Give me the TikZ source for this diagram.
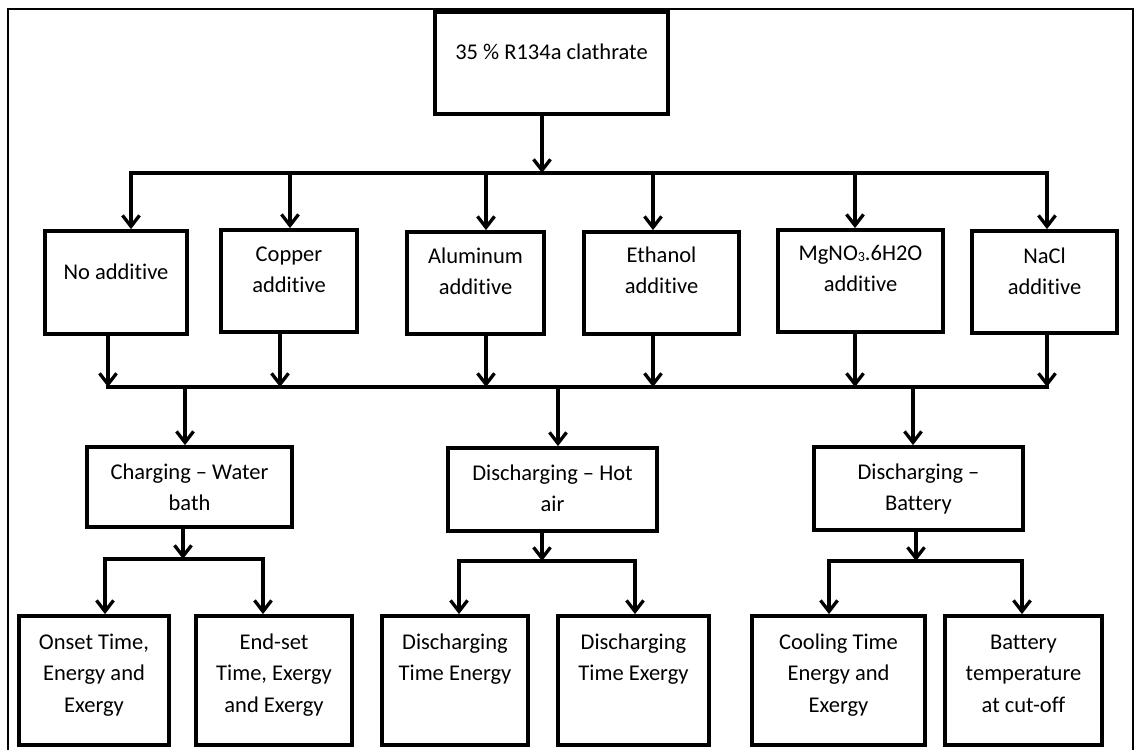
\documentclass[tikz,border=0pt]{standalone}
\usepackage{fontspec}
\setmainfont{Carlito}[Ligatures={TeX,NoCommon}]
\usetikzlibrary{arrows.meta}
\newcommand{\bxt}[4]{\parbox[c][#2pt][t]{#1pt}{\centering\rule{0pt}{#3pt}#4\par}}
\newcommand{\subthree}{{\fontsize{14}{14}\selectfont\raisebox{-1.5pt}{3}}}
\newcommand{\addv}{addit\kern0pt ive}
\begin{document}
\begin{tikzpicture}[x=1pt,y=-1pt,
  bx/.style={draw, line width=3.8pt, inner sep=0pt, font=\fontsize{22.5}{31.5}\selectfont},
  conn/.style={line width=3.3pt},
  bus/.style={conn, line cap=rect},
  arr/.style={conn, -{Straight Barb[length=11pt,width=17pt]}}]
\useasboundingbox (0,0) rectangle (1136,750);
\draw[line width=2pt] (8,9) rectangle (1133,770);

% top
\node[bx] (top) at (551.5,63) {\bxt{233}{102}{47}{35 \% R134a clathrate}};

% row 2
\node[bx] (nadd) at (116,282.5) {\bxt{142}{103}{48}{No \addv}};
\node[bx] (copp) at (289,281) {\bxt{136}{102}{31}{Copper\\\addv}};
\node[bx] (alum) at (475.5,283) {\bxt{137}{102}{31}{Aluminum\\\addv}};
\node[bx] (eth) at (661.5,283) {\bxt{155}{102}{30}{Ethanol\\\addv}};
\node[bx] (mg) at (860.5,281) {\bxt{165}{102}{30}{MgNO\subthree.6H2O\\\addv}};
\node[bx] (nacl) at (1044.5,282) {\bxt{145}{102}{32}{NaCl\\\addv}};

% row 3
\node[bx] (chg) at (189.5,487) {\bxt{205}{80}{32}{Charging – Water\\bath}};
\node[bx] (hot) at (552.5,489.5) {\bxt{209}{83}{32}{Discharging – Hot\\air}};
\node[bx] (bat) at (918.5,488.5) {\bxt{209}{83}{32}{Discharging –\\Battery}};

% row 4
\node[bx] (onset) at (94,680.5) {\bxt{150}{129}{33}{Onset Time,\\Energy and\\Exergy}};
\node[bx] (endset) at (274,680.5) {\bxt{156}{129}{33}{End-set\\Time, Exergy\\and Exergy}};
\node[bx] (dte) at (455,680.5) {\bxt{146}{129}{33}{Discharging\\Time Energy}};
\node[bx] (dtx) at (633.5,680.5) {\bxt{151}{129}{33}{Discharging\\Time Exergy}};
\node[bx] (cool) at (838.5,680.5) {\bxt{173}{129}{33}{Cooling Time\\Energy and\\Exergy}};
\node[bx] (btemp) at (1023.5,680.5) {\bxt{157}{129}{33}{Battery\\temperature\\at cut-off}};

% top distribution bus
\coordinate (j0) at (542,173);
\coordinate (d1) at (131,173);
\coordinate (d2) at (290,173);
\coordinate (d3) at (486,173);
\coordinate (d4) at (653,173);
\coordinate (d5) at (855,173);
\coordinate (d6) at (1047,173);
\draw[arr] (j0 |- top.south) -- (j0);
\draw[bus] (d1) -- (d6);
\draw[arr] (d1) -- (d1 |- nadd.north);
\draw[arr] (d2) -- (d2 |- copp.north);
\draw[arr] (d3) -- (d3 |- alum.north);
\draw[arr] (d4) -- (d4 |- eth.north);
\draw[arr] (d5) -- (d5 |- mg.north);
\draw[arr] (d6) -- (d6 |- nacl.north);

% collecting bus
\coordinate (u1) at (108,387);
\coordinate (u2) at (280,387);
\coordinate (u3) at (486,387);
\coordinate (u4) at (653,387);
\coordinate (u5) at (855,387);
\coordinate (u6) at (1047,387);
\coordinate (v1) at (185,387);
\coordinate (v2) at (558,387);
\coordinate (v3) at (913,387);
\draw[bus] (u1) -- (u6);
\draw[arr] (u1 |- nadd.south) -- (u1);
\draw[arr] (u2 |- copp.south) -- (u2);
\draw[arr] (u3 |- alum.south) -- (u3);
\draw[arr] (u4 |- eth.south) -- (u4);
\draw[arr] (u5 |- mg.south) -- (u5);
\draw[arr] (u6 |- nacl.south) -- (u6);
\draw[arr] (v1) -- (v1 |- chg.north);
\draw[arr] (v2) -- (v2 |- hot.north);
\draw[arr] (v3) -- (v3 |- bat.north);

% charging branch
\coordinate (c0) at (183,559);
\coordinate (c1) at (105,559);
\coordinate (c2) at (263,559);
\draw[arr] (c0 |- chg.south) -- (c0);
\draw[bus] (c1) -- (c2);
\draw[arr] (c1) -- (c1 |- onset.north);
\draw[arr] (c2) -- (c2 |- endset.north);

% hot air branch
\coordinate (h0) at (542,561);
\coordinate (h1) at (459,561);
\coordinate (h2) at (635,561);
\draw[arr] (h0 |- hot.south) -- (h0);
\draw[bus] (h1) -- (h2);
\draw[arr] (h1) -- (h1 |- dte.north);
\draw[arr] (h2) -- (h2 |- dtx.north);

% battery branch
\coordinate (b0) at (916,561);
\coordinate (b1) at (829,561);
\coordinate (b2) at (1022,561);
\draw[arr] (b0 |- bat.south) -- (b0);
\draw[bus] (b1) -- (b2);
\draw[arr] (b1) -- (b1 |- cool.north);
\draw[arr] (b2) -- (b2 |- btemp.north);
\end{tikzpicture}
\end{document}
